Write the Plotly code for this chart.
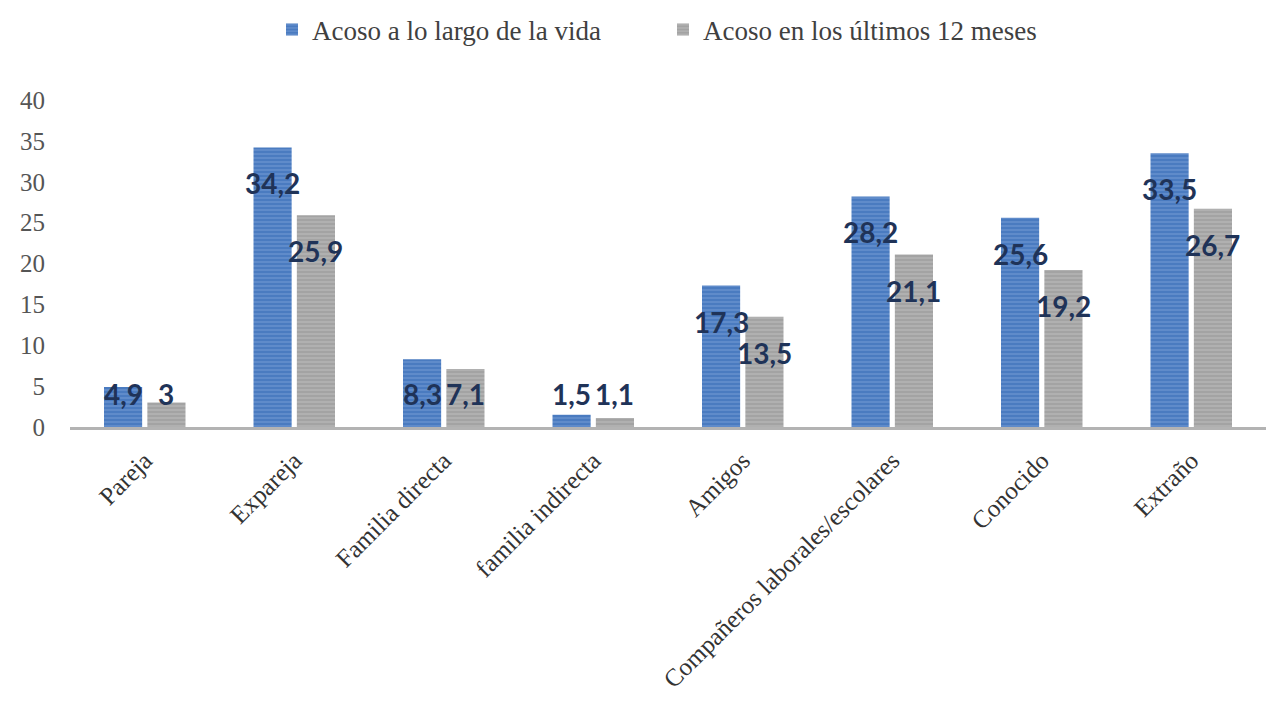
import plotly.graph_objects as go

categories = ["Pareja", "Expareja", "Familia directa", "familia indirecta", "Amigos",
              "Compañeros laborales/escolares", "Conocido", "Extraño"]
vida = [4.9, 34.2, 8.3, 1.5, 17.3, 28.2, 25.6, 33.5]
ultimos = [3, 25.9, 7.1, 1.1, 13.5, 21.1, 19.2, 26.7]
vida_labels = ["4,9", "34,2", "8,3", "1,5", "17,3", "28,2", "25,6", "33,5"]
ultimos_labels = ["3", "25,9", "7,1", "1,1", "13,5", "21,1", "19,2", "26,7"]
y_ticks = [0, 5, 10, 15, 20, 25, 30, 35, 40]

W, H = 1267, 712
ML, MR, MT, MB = 70, 1, 100, 285
BARGAP, BARGROUPGAP = 0.42, 0.12

fig = go.Figure()
fig.add_trace(go.Bar(
    x=categories, y=vida, name="Acoso a lo largo de la vida",
    marker=dict(color="#4a7bc0", line=dict(width=0),
                pattern=dict(shape="-", fgcolor="#86a8dc", bgcolor="#4a7bc0",
                             size=4, solidity=0.35)),
))
fig.add_trace(go.Bar(
    x=categories, y=ultimos, name="Acoso en los últimos 12 meses",
    marker=dict(color="#a6a6a6", line=dict(width=0),
                pattern=dict(shape="-", fgcolor="#c8c8c8", bgcolor="#a3a3a3",
                             size=4, solidity=0.35)),
))

# label positioning (pixel offsets derived from bar layout)
plot_w = W - ML - MR
plot_h = H - MT - MB
cat_w = plot_w / len(categories)
slot = cat_w * (1 - BARGAP) / 2
ppu = plot_h / 40.0
off_units = 36 / ppu
floor_units = 33 / ppu

annotations = []
for series, labels, sign in ((vida, vida_labels, -1), (ultimos, ultimos_labels, 1)):
    for c, v, t in zip(categories, series, labels):
        ly = max(v - off_units, floor_units)
        annotations.append(dict(
            x=c, y=ly, xref="x", yref="y", text=t, showarrow=False,
            xshift=sign * slot / 2, yanchor="middle", xanchor="center",
            font=dict(family="Lato", size=28, color="#1f3358", weight="bold"),
        ))

fig.update_layout(
    width=W, height=H,
    margin=dict(l=ML, r=MR, t=MT, b=MB, autoexpand=False),
    paper_bgcolor="white", plot_bgcolor="white",
    barmode="group", bargap=BARGAP, bargroupgap=BARGROUPGAP,
    showlegend=True,
    legend=dict(orientation="h", x=(272 - ML) / plot_w, xanchor="left",
                y=(H - MB - 30) / plot_h, yanchor="middle",
                font=dict(family="Liberation Serif", size=27, color="#404040"),
                itemwidth=30, entrywidth=346, entrywidthmode="pixels",
                traceorder="normal"),
    annotations=annotations,
    xaxis=dict(showline=True, linecolor="#b3b3b3", linewidth=3, ticks="",
               tickangle=-45, showgrid=False, ticklabelstandoff=6,
               tickfont=dict(family="Liberation Serif", size=25, color="#333333")),
    yaxis=dict(range=[0, 40], tickvals=y_ticks, ticktext=[str(v) for v in y_ticks],
               showgrid=False, zeroline=False, showline=False, ticks="",
               ticklabelstandoff=24,
               tickfont=dict(family="Liberation Serif", size=25, color="#555555")),
)

fig.write_html("out.html", config={"displayModeBar": False},
               post_script="document.body.style.margin='0';document.body.style.overflow='hidden';")
